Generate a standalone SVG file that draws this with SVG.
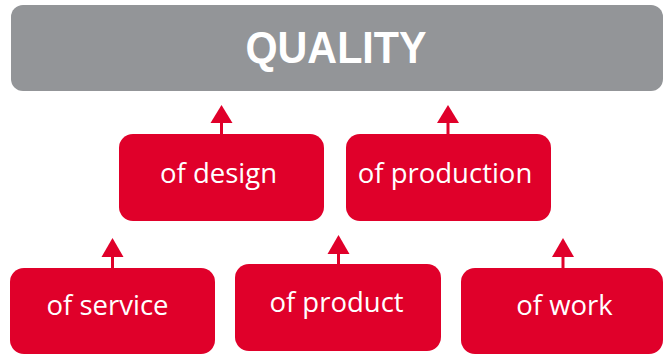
<svg xmlns="http://www.w3.org/2000/svg" width="665" height="356" viewBox="0 0 665 356">
<defs>
<style>
.box{fill:#E0002A}
.top{fill:#939598}
.lbl{font-family:"Open Sans","Noto Sans",sans-serif;font-size:27.5px;fill:#FFFFFF;text-anchor:middle}
.title{font-family:"Liberation Sans",Arial,sans-serif;font-weight:bold;font-size:44px;fill:#FFFFFF;text-anchor:middle}
.conn{stroke:#E0002A;stroke-width:3;fill:none}
.head{fill:#E0002A}
</style>
</defs>
<rect width="665" height="356" fill="#FFFFFF"/>
<g id="connectors">
<line class="conn" x1="221.5" y1="134" x2="221.5" y2="120"/>
<polygon class="head" points="221.5,105 210.5,123 232.5,123"/>
<line class="conn" x1="448" y1="134" x2="448" y2="120"/>
<polygon class="head" points="448,105 437,123 459,123"/>
<line class="conn" x1="112.5" y1="268" x2="112.5" y2="254"/>
<polygon class="head" points="112.5,238 101.5,257 123.5,257"/>
<line class="conn" x1="338.5" y1="265" x2="338.5" y2="251"/>
<polygon class="head" points="338.5,235 327.5,254 349.5,254"/>
<line class="conn" x1="563" y1="268" x2="563" y2="254"/>
<polygon class="head" points="563,238 552,257 574,257"/>
</g>
<g id="quality">
<rect class="top" x="11" y="5" width="652" height="86" rx="12" ry="12"/>
<text class="title" x="336" y="63" textLength="181" lengthAdjust="spacingAndGlyphs">QUALITY</text>
</g>
<g id="design">
<rect class="box" x="119" y="134" width="205" height="87" rx="14" ry="14"/>
<text class="lbl" x="218.5" y="183">of design</text>
</g>
<g id="production">
<rect class="box" x="346" y="134" width="205" height="87" rx="14" ry="14"/>
<text class="lbl" x="445" y="183">of production</text>
</g>
<g id="service">
<rect class="box" x="10" y="268" width="205" height="86" rx="14" ry="14"/>
<text class="lbl" x="107.5" y="315">of service</text>
</g>
<g id="product">
<rect class="box" x="235" y="264" width="206" height="87" rx="14" ry="14"/>
<text class="lbl" x="336.5" y="312">of product</text>
</g>
<g id="work">
<rect class="box" x="461" y="268" width="202" height="86" rx="14" ry="14"/>
<text class="lbl" x="564.5" y="315">of work</text>
</g>
</svg>
